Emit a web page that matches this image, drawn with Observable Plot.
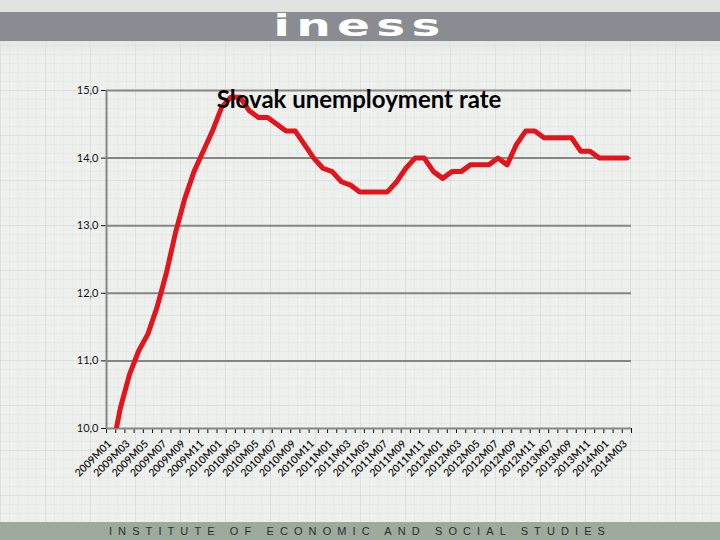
<!DOCTYPE html>
<html>
<head>
<meta charset="utf-8">
<script src="https://cdn.jsdelivr.net/npm/d3@7"></script>
<script src="https://cdn.jsdelivr.net/npm/@observablehq/plot@0.6"></script>
<style>
html, body { margin: 0; padding: 0; }
body { width: 720px; height: 540px; overflow: hidden; position: relative; background: #eef0ee; }
#bg { position: absolute; left: 0; top: 0; width: 720px; height: 540px;
  background-color: #eef0ee;
  background-image:
    linear-gradient(rgba(120,135,125,0.10) 1px, transparent 1px),
    linear-gradient(90deg, rgba(120,135,125,0.10) 1px, transparent 1px),
    linear-gradient(rgba(120,135,125,0.05) 1px, transparent 1px),
    linear-gradient(90deg, rgba(120,135,125,0.05) 1px, transparent 1px);
  background-size: 45px 45px, 45px 45px, 9px 9px, 9px 9px; }
#topfade { position: absolute; left: 0; top: 0; width: 720px; height: 60px;
  background: linear-gradient(#dfe4e1, #e3e7e4 60%, rgba(238,240,238,0)); }
#band { position: absolute; left: 0; top: 12px; width: 720px; height: 29px; background: #898d92; }
#logo { position: absolute; left: 0; width: 720px; top: 0px; height: 29px; text-align: center; color: #fff;
  font-family: "DejaVu Sans", sans-serif; font-weight: bold; font-size: 27px; line-height: 29px;
  letter-spacing: 3.5px; transform: scale(1.8, 1.12); transform-origin: 360px 22px; }
#chart { position: absolute; left: 0; top: 0; }
#title { position: absolute; left: 0; width: 718px; top: 87px; text-align: center;
  font-family: Lato, sans-serif; font-weight: bold; font-size: 24px; line-height: 24px; color: #000; }
#footer { position: absolute; left: 0; top: 522px; width: 720px; height: 18px; background: #9cab9e; }
#footer span { position: absolute; left: 0; width: 720px; top: 2px; text-align: center;
  font-family: "Liberation Sans", sans-serif; font-size: 11px; line-height: 14px; letter-spacing: 6.1px; color: #2b2f2c; }
#chart svg g[aria-label^="y-axis"] line, #chart svg g[aria-label^="x-axis"] line { stroke: #858585; stroke-width: 2; }
</style>
</head>
<body>
<div id="bg"></div>
<div id="topfade"></div>
<div id="band"><div id="logo">iness</div></div>
<div id="footer"><span>INSTITUTE OF ECONOMIC AND SOCIAL STUDIES</span></div>
<div id="chart"></div>
<div id="title">Slovak unemployment rate</div>
<script>
const categories = [
  "2009M01","2009M02","2009M03","2009M04","2009M05","2009M06","2009M07","2009M08","2009M09","2009M10","2009M11","2009M12",
  "2010M01","2010M02","2010M03","2010M04","2010M05","2010M06","2010M07","2010M08","2010M09","2010M10","2010M11","2010M12",
  "2011M01","2011M02","2011M03","2011M04","2011M05","2011M06","2011M07","2011M08","2011M09","2011M10","2011M11","2011M12",
  "2012M01","2012M02","2012M03","2012M04","2012M05","2012M06","2012M07","2012M08","2012M09","2012M10","2012M11","2012M12",
  "2013M07","2013M08","2013M09","2013M10","2013M11","2013M12","2014M01","2014M02","2014M03"
];
const rate = [
  9.6, 10.3, 10.8, 11.15, 11.4, 11.8, 12.3, 12.9, 13.4, 13.8, 14.1, 14.4,
  14.75, 14.9, 14.9, 14.7, 14.6, 14.6, 14.5, 14.4, 14.4, 14.2, 14.0, 13.85,
  13.8, 13.65, 13.6, 13.5, 13.5, 13.5, 13.5, 13.65, 13.85, 14.0, 14.0, 13.8,
  13.7, 13.8, 13.8, 13.9, 13.9, 13.9, 14.0, 13.9, 14.2, 14.4, 14.4, 14.3,
  14.3, 14.3, 14.3, 14.1, 14.1, 14.0, 14.0, 14.0, 14.0
];
const yTicks = [10, 11, 12, 13, 14, 15];

const data = categories.map((c, i) => ({i, label: c, value: rate[i]}));
const labelled = data.filter(d => d.i % 2 === 0);
const boundaries = d3.range(categories.length + 1).map(k => k - 0.5);

const chart = Plot.plot({
  width: 720,
  height: 540,
  marginLeft: 106,
  marginRight: 89,
  marginTop: 90,
  marginBottom: 112,
  style: {background: "transparent", fontFamily: "Lato, sans-serif", fontSize: "11px", color: "#111"},
  x: {domain: [-0.5, categories.length - 0.5], ticks: boundaries, tickFormat: () => "", tickSize: 5, label: null},
  y: {domain: [10, 15], ticks: yTicks, tickFormat: d => d.toFixed(1).replace(".", ","), tickSize: 5, tickPadding: 3, label: null},
  marks: [
    Plot.ruleY(yTicks, {stroke: "#858585", strokeWidth: 2}),
    Plot.ruleX([-0.5], {stroke: "#858585", strokeWidth: 2}),
    Plot.line(data, {x: "i", y: "value", stroke: "#e3141b", strokeWidth: 5, strokeLinejoin: "round", clip: true}),
    Plot.text(labelled, {x: "i", frameAnchor: "bottom", text: "label", rotate: -45, textAnchor: "end",
      dx: 1, dy: 16, fontSize: 10.5, fontWeight: 600, fill: "#111"})
  ]
});
document.getElementById("chart").appendChild(chart);
</script>
</body>
</html>
